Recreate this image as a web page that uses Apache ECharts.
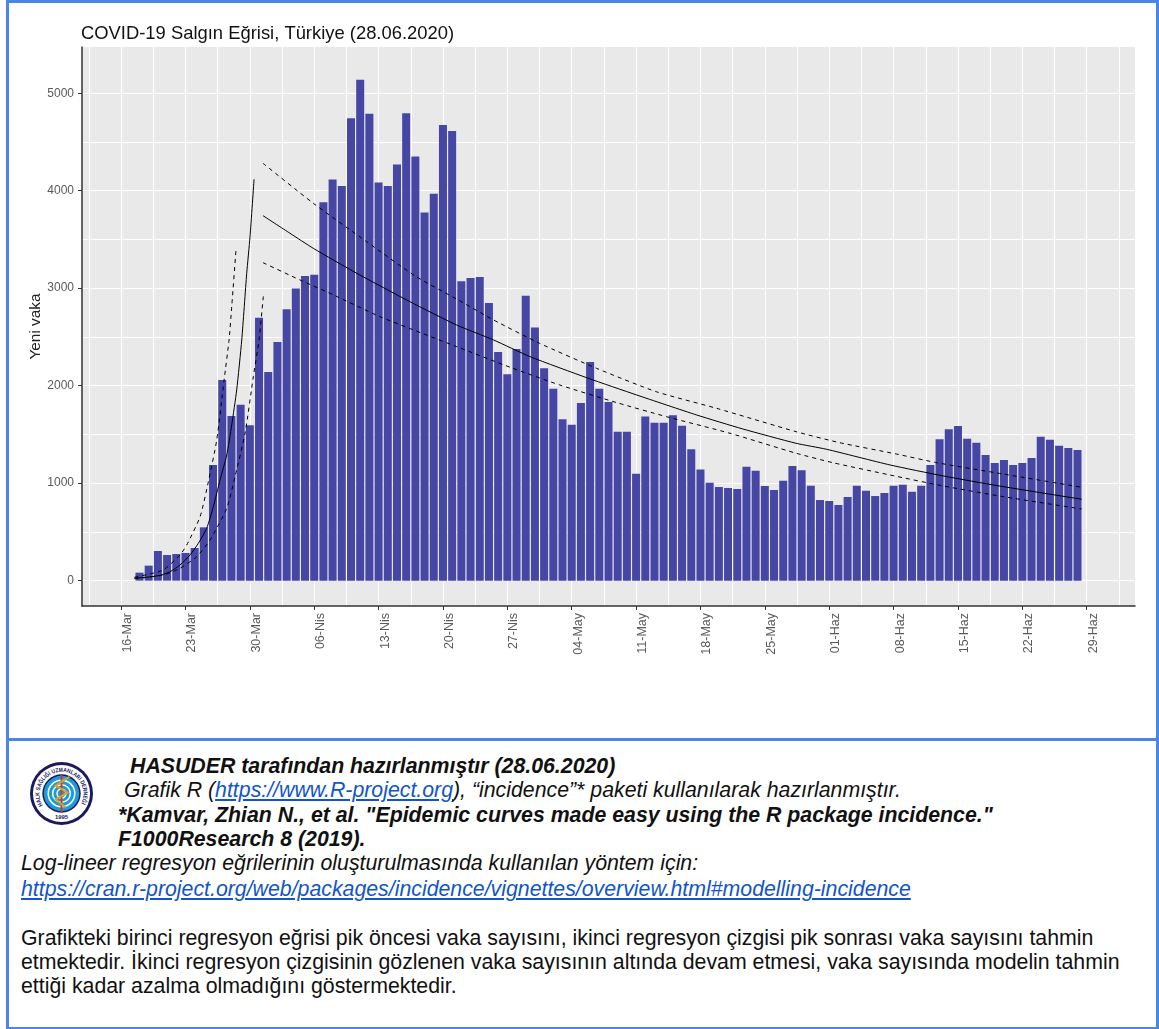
<!DOCTYPE html>
<html>
<head>
<meta charset="utf-8">
<title>COVID-19 Salgın Eğrisi</title>
<script src="https://cdn.jsdelivr.net/npm/echarts@6/dist/echarts.min.js"></script>
<style>
    html, body { margin: 0; padding: 0; background: #fff; }
    body { width: 1159px; height: 1029px; position: relative; overflow: hidden; font-family: "Liberation Sans", Arial, sans-serif; color: #111; }
    #main { position: absolute; left: 0; top: 0; width: 1159px; height: 738px; }
    .frame { position: absolute; background: #4a86e8; }
    .t { position: absolute; white-space: nowrap; font-size: 21.3px; line-height: 24px; }
    .bi { font-weight: bold; font-style: italic; }
    .i { font-style: italic; }
    a { color: #1155cc; }
    #logo { position: absolute; left: 30px; top: 762px; }
</style>
</head>
<body>
<div id="main"></div>

<div class="frame" style="left:6px;top:0;width:1153px;height:3px"></div>
<div class="frame" style="left:6px;top:0;width:3px;height:1029px"></div>
<div class="frame" style="left:1156px;top:0;width:3px;height:1029px"></div>
<div class="frame" style="left:6px;top:1027px;width:1153px;height:2px"></div>
<div class="frame" style="left:6px;top:738px;width:1153px;height:3px"></div>

<svg id="logo" width="63" height="63" viewBox="0 0 64 64">
    <defs>
        <path id="arcTop" d="M13 44 A22.300 22.300 0 1 1 51 44"></path>
    </defs>
    <circle cx="32" cy="32" r="32" fill="#1a1a5c"></circle>
    <circle cx="32" cy="32" r="29" fill="#fff"></circle>
    <circle cx="32" cy="32" r="19.500" fill="#1a1a5c"></circle>
    <circle cx="32" cy="32" r="18" fill="#1d9bd8"></circle>
    <circle cx="32" cy="32" r="13.500" fill="none" stroke="#fff" stroke-width="1.500"></circle>
    <circle cx="32" cy="32" r="9" fill="none" stroke="#fff" stroke-width="1.500"></circle>
    <circle cx="32" cy="32" r="4.500" fill="none" stroke="#fff" stroke-width="1.500"></circle>
    <path d="M32 13 V51" stroke="#d8322a" stroke-width="2"></path>
    <path d="M40 15 L26 24 L38 31 L26 38 L36 46" fill="none" stroke="#d9a520" stroke-width="2"></path>
    <text font-size="6" font-weight="bold" fill="#1a1a5c"><textPath href="#arcTop" textLength="92" lengthAdjust="spacingAndGlyphs">HALK SAĞLIĞI UZMANLARI DERNEĞİ</textPath></text>
    <text x="32" y="58" font-size="6" font-weight="bold" text-anchor="middle" fill="#1a1a5c">1995</text>
</svg>

<div class="t bi" style="left:130px;top:754px">HASUDER tarafından hazırlanmıştır (28.06.2020)</div>
<div class="t i" style="left:124px;top:778px">Grafik R (<a href="https://www.R-project.org">https://www.R-project.org</a>), “incidence”* paketi kullanılarak hazırlanmıştır.</div>
<div class="t bi" style="left:118px;top:803px">*Kamvar, Zhian N., et al. "Epidemic curves made easy using the R package incidence."</div>
<div class="t bi" style="left:118px;top:827px">F1000Research 8 (2019).</div>
<div class="t i" style="left:21px;top:851px">Log-lineer regresyon eğrilerinin oluşturulmasında kullanılan yöntem için:</div>
<div class="t i" style="left:21px;top:877px"><a href="https://cran.r-project.org/web/packages/incidence/vignettes/overview.html#modelling-incidence">https://cran.r-project.org/web/packages/incidence/vignettes/overview.html#modelling-incidence</a></div>
<div class="t" style="left:21px;top:926px">Grafikteki birinci regresyon eğrisi pik öncesi vaka sayısını, ikinci regresyon çizgisi pik sonrası vaka sayısını tahmin</div>
<div class="t" style="left:21px;top:950px">etmektedir. İkinci regresyon çizgisinin gözlenen vaka sayısının altında devam etmesi, vaka sayısında modelin tahmin</div>
<div class="t" style="left:21px;top:974px">ettiği kadar azalma olmadığını göstermektedir.</div>

<script type="text/javascript">
    // x ekseni: 16-Mar'dan itibaren gun sayisi
    var tickDays = [0, 7, 14, 21, 28, 35, 42, 49, 56, 63, 70, 77, 84, 91, 98, 105];
    var tickLabels = ['16-Mar', '23-Mar', '30-Mar', '06-Nis', '13-Nis', '20-Nis', '27-Nis', '04-May',
        '11-May', '18-May', '25-May', '01-Haz', '08-Haz', '15-Haz', '22-Haz', '29-Haz'];
    var minorDays = [-3.5, 3.5, 10.5, 17.5, 24.5, 31.5, 38.5, 45.5, 52.5, 59.5, 66.5, 73.5, 80.5, 87.5, 94.5, 101.5, 108.5];
    var yTicks = [0, 1000, 2000, 3000, 4000, 5000];
    var yMinor = [500, 1500, 2500, 3500, 4500];

    // ilk cubuk 18-Mar
    var firstDay = 2;
    var newCases = [
        82, 154, 304, 263, 273, 284, 335, 547, 1186, 2058, 1689, 1805, 1593, 2698, 2140,
        2448, 2783, 2998, 3125, 3138, 3881, 4114, 4049, 4744, 5138, 4789, 4083, 4049, 4270, 4795,
        4350, 3777, 3968, 4674, 4612, 3072, 3105, 3115, 2848, 2345, 2116, 2376, 2923, 2598, 2178,
        1969, 1655, 1600, 1822, 2243, 1969, 1833, 1528, 1528, 1097, 1685, 1620, 1620, 1696, 1590,
        1347, 1139, 1005, 961, 950, 940, 1169, 1128, 971, 930, 1026, 1176, 1132, 974, 827,
        817, 776, 858, 974, 923, 868, 899, 974, 985, 913, 974, 1186, 1450, 1552, 1586,
        1456, 1415, 1289, 1207, 1238, 1186, 1207, 1258, 1477, 1446, 1385, 1361, 1340
    ];

    // pik oncesi regresyon
    var growthFit = [[1.45, 27], [2.79, 35], [4.24, 55], [5.33, 92], [6.41, 161], [7.5, 264], [8.4, 383], [9.31, 537],
        [10.03, 759], [10.76, 1033], [11.49, 1289], [12.03, 1597], [12.57, 1956], [13.12, 2469], [13.66, 3153],
        [14.02, 3528], [14.46, 4117]];
    var growthUpper = [[1.45, 35], [2.97, 65], [4.6, 110], [6.41, 264], [7.14, 366], [8.59, 656], [9.49, 1015],
        [10.4, 1443], [11.2, 2058], [11.74, 2469], [12.03, 2810], [12.5, 3399]];
    var growthLower = [[1.45, 20], [4.6, 58], [6.41, 127], [8.22, 246], [9.67, 417], [11.49, 743], [12.39, 1067],
        [13.48, 1512], [14.38, 2092], [15, 2469], [15.47, 2920]];

    // pik sonrasi regresyon
    var declineFit = [[15.43, 3744], [18.37, 3563], [20.9, 3409], [25.62, 3153], [31.4, 2862], [36.47, 2623],
        [40.5, 2469], [44.46, 2298], [50.8, 2076], [56.05, 1905], [62.6, 1699], [67.6, 1556], [73.4, 1409],
        [76.7, 1348], [83.6, 1187], [89.4, 1074], [95.5, 971], [104.46, 835]];
    var declineUpper = [[15.43, 4281], [20.9, 3871], [26.7, 3477], [32.1, 3118], [36.67, 2879], [40.5, 2674],
        [45.5, 2435], [51.7, 2178], [58.2, 1938], [64.75, 1768], [73.4, 1528], [78.15, 1415], [84.3, 1299],
        [88.7, 1210], [95.9, 1094], [104.46, 958]];
    var declineLower = [[15.43, 3262], [19.46, 3084], [23.1, 2931], [28.15, 2708], [36.5, 2400], [42.3, 2189],
        [47.7, 2007], [53.9, 1826], [59.3, 1682], [66.2, 1512], [73.4, 1307], [77.4, 1210], [83.6, 1084],
        [89.4, 971], [95.9, 862], [104.46, 735]];

    var xMin = -4.25, xMax = 110.25, yMin = -260, yMax = 5474;

    var gridLine = {show: true, lineStyle: {color: '#fff', width: 1, type: 'solid'}};
    var noLine = {show: false};

    function fitLine(data, dashed) {
        return {
            type: 'line',
            data: data,
            symbol: 'none',
            smooth: 0.2,
            z: 5,
            lineStyle: {color: '#000', width: 1, type: dashed ? [4, 4] : 'solid'}
        };
    }

    var myChart = echarts.init(document.getElementById('main'), null, {renderer: 'canvas'});
    var option = {
        animation: false,
        backgroundColor: '#fff',
        title: {
            text: 'COVID-19 Salgın Eğrisi, Türkiye (28.06.2020)',
            left: 76,
            top: 20,
            textStyle: {fontFamily: 'Liberation Sans', fontSize: 18.4, fontWeight: 'normal', color: '#111'}
        },
        grid: {
            left: 82,
            top: 47,
            width: 1053,
            height: 559,
            show: true,
            backgroundColor: '#e9e9e9',
            borderWidth: 0
        },
        xAxis: [
            {
                type: 'value',
                min: xMin,
                max: xMax,
                axisLine: {show: true, onZero: false, lineStyle: {color: '#333', width: 1.5}},
                axisTick: {show: true, length: 4, customValues: tickDays, lineStyle: {color: '#333'}},
                axisLabel: {
                    rotate: 90,
                    margin: 7,
                    color: '#5a5a5a',
                    fontFamily: 'Liberation Sans',
                    fontSize: 12.5,
                    verticalAlign: 'top',
                    customValues: tickDays,
                    formatter: function (v) {
                        return tickLabels[tickDays.indexOf(v)];
                    }
                },
                splitLine: gridLine
            },
            {
                type: 'value',
                min: xMin,
                max: xMax,
                axisLine: noLine,
                axisLabel: noLine,
                axisTick: {show: false, customValues: minorDays},
                splitLine: gridLine
            }
        ],
        yAxis: [
            {
                type: 'value',
                min: yMin,
                max: yMax,
                name: 'Yeni vaka',
                nameLocation: 'middle',
                nameGap: 39,
                nameMoveOverlap: false,
                nameTextStyle: {color: '#222', fontFamily: 'Liberation Sans', fontSize: 15.4},
                axisLine: {show: true, onZero: false, lineStyle: {color: '#333', width: 1.5}},
                axisTick: {show: true, length: 4, customValues: yTicks, lineStyle: {color: '#333'}},
                axisLabel: {
                    margin: 8,
                    color: '#5a5a5a',
                    fontFamily: 'Liberation Sans',
                    fontSize: 12,
                    customValues: yTicks,
                    formatter: function (v) {
                        return String(v);
                    }
                },
                splitLine: gridLine
            },
            {
                type: 'value',
                min: yMin,
                max: yMax,
                axisLine: noLine,
                axisLabel: noLine,
                axisTick: {show: false, customValues: yMinor},
                splitLine: gridLine
            }
        ],
        series: [
            {
                type: 'bar',
                barWidth: 8,
                data: newCases.map(function (v, i) {
                    return [firstDay + i, v];
                }),
                itemStyle: {color: '#4646a4'},
                z: 3
            },
            fitLine(growthFit, false),
            fitLine(growthUpper, true),
            fitLine(growthLower, true),
            fitLine(declineFit, false),
            fitLine(declineUpper, true),
            fitLine(declineLower, true)
        ]
    };
    myChart.setOption(option);
</script>
</body>
</html>
